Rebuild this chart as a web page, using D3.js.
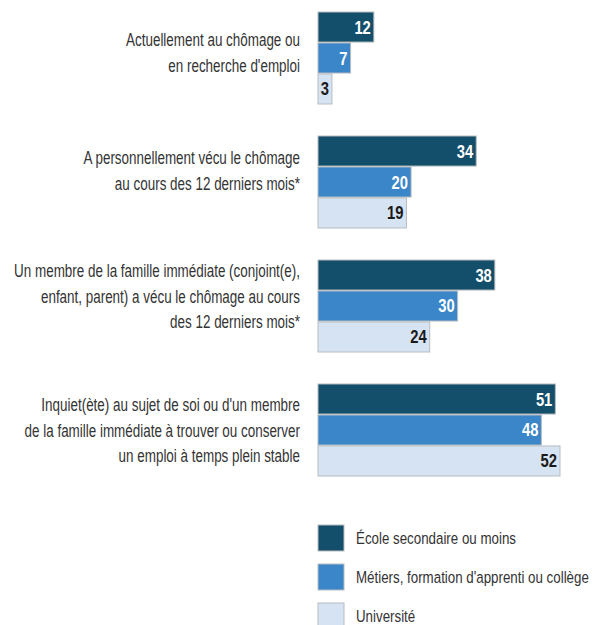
<!DOCTYPE html>
<html><head><meta charset="utf-8">
<script src="https://cdn.jsdelivr.net/npm/d3@7"></script>
<style>
body{margin:0;background:#fff;}
text{font-family:"Liberation Sans",Arial,sans-serif;}
</style></head>
<body><svg id="c" width="593" height="625"></svg>
<script>
const categories = [
  ["Actuellement au chômage ou","en recherche d'emploi"],
  ["A personnellement vécu le chômage","au cours des 12 derniers mois*"],
  ["Un membre de la famille immédiate (conjoint(e),","enfant, parent) a vécu le chômage au cours","des 12 derniers mois*"],
  ["Inquiet(ète) au sujet de soi ou d'un membre","de la famille immédiate à trouver ou conserver","un emploi à temps plein stable"]
];
const seriesNames = ["École secondaire ou moins","Métiers, formation d'apprenti ou collège","Université"];
const secondaire = [12, 34, 38, 51];
const metiers = [7, 20, 30, 48];
const universite = [3, 19, 24, 52];
const colors = ["#134f6b","#3a86c8","#d6e3f3"];
const labelColors = ["#fff","#fff","#1a1a1a"];

const series = [secondaire, metiers, universite];
const svg = d3.select("#c");
const x = d3.scaleLinear().domain([0, 52]).range([318, 560]);
const y0 = d3.scaleBand().domain(d3.range(categories.length)).range([12, 476]).paddingInner(0.258).paddingOuter(0);
const y1 = d3.scaleBand().domain(d3.range(series.length)).range([0, y0.bandwidth()]).paddingInner(0.03);

function measure(str, size) {
  const p = svg.append("text").attr("font-size", size).text(str);
  const w = p.node().getComputedTextLength();
  p.remove();
  return w;
}
const catSize = 17.5, legSize = 17;
const k = 286 / measure(categories[2][0], catSize);
const kl = 233 / measure(seriesNames[1], legSize);

const g = svg.append("g");
const offs = [-5, -11, -9, 1];
categories.forEach((lines, i) => {
  const cy = y0(i) + y0.bandwidth()/2 + offs[i];
  const lh = 25.5;
  lines.forEach((l, kk) => {
    g.append("text").attr("text-anchor","end").attr("fill","#333").attr("font-size",catSize)
      .attr("transform", `translate(300,${cy + (kk - (lines.length-1)/2)*lh + 6}) scale(${k},1)`).text(l);
  });
  series.forEach((s, j) => {
    const yy = y0(i) + y1(j);
    g.append("rect").attr("x", x(0)).attr("y", yy).attr("width", x(s[i]) - x(0)).attr("height", y1.bandwidth())
      .attr("fill", colors[j]).attr("stroke","#b9bcbf").attr("stroke-width",1);
    g.append("text").attr("transform", `translate(${x(s[i]) - 3},${yy + y1.bandwidth()/2 + 6.5}) scale(0.8,1)`)
      .attr("text-anchor","end").attr("font-weight","bold").attr("font-size",18.5).attr("fill",labelColors[j]).text(s[i]);
  });
});

const lg = svg.append("g");
seriesNames.forEach((n, j) => {
  const ly = 525 + j*39;
  lg.append("rect").attr("x",318).attr("y",ly).attr("width",26).attr("height",26).attr("fill",colors[j]).attr("stroke","#b9bcbf");
  lg.append("text").attr("transform",`translate(356,${ly+18.5}) scale(${kl},1)`).attr("font-size",legSize).attr("fill","#333").text(n);
});
</script></body></html>
